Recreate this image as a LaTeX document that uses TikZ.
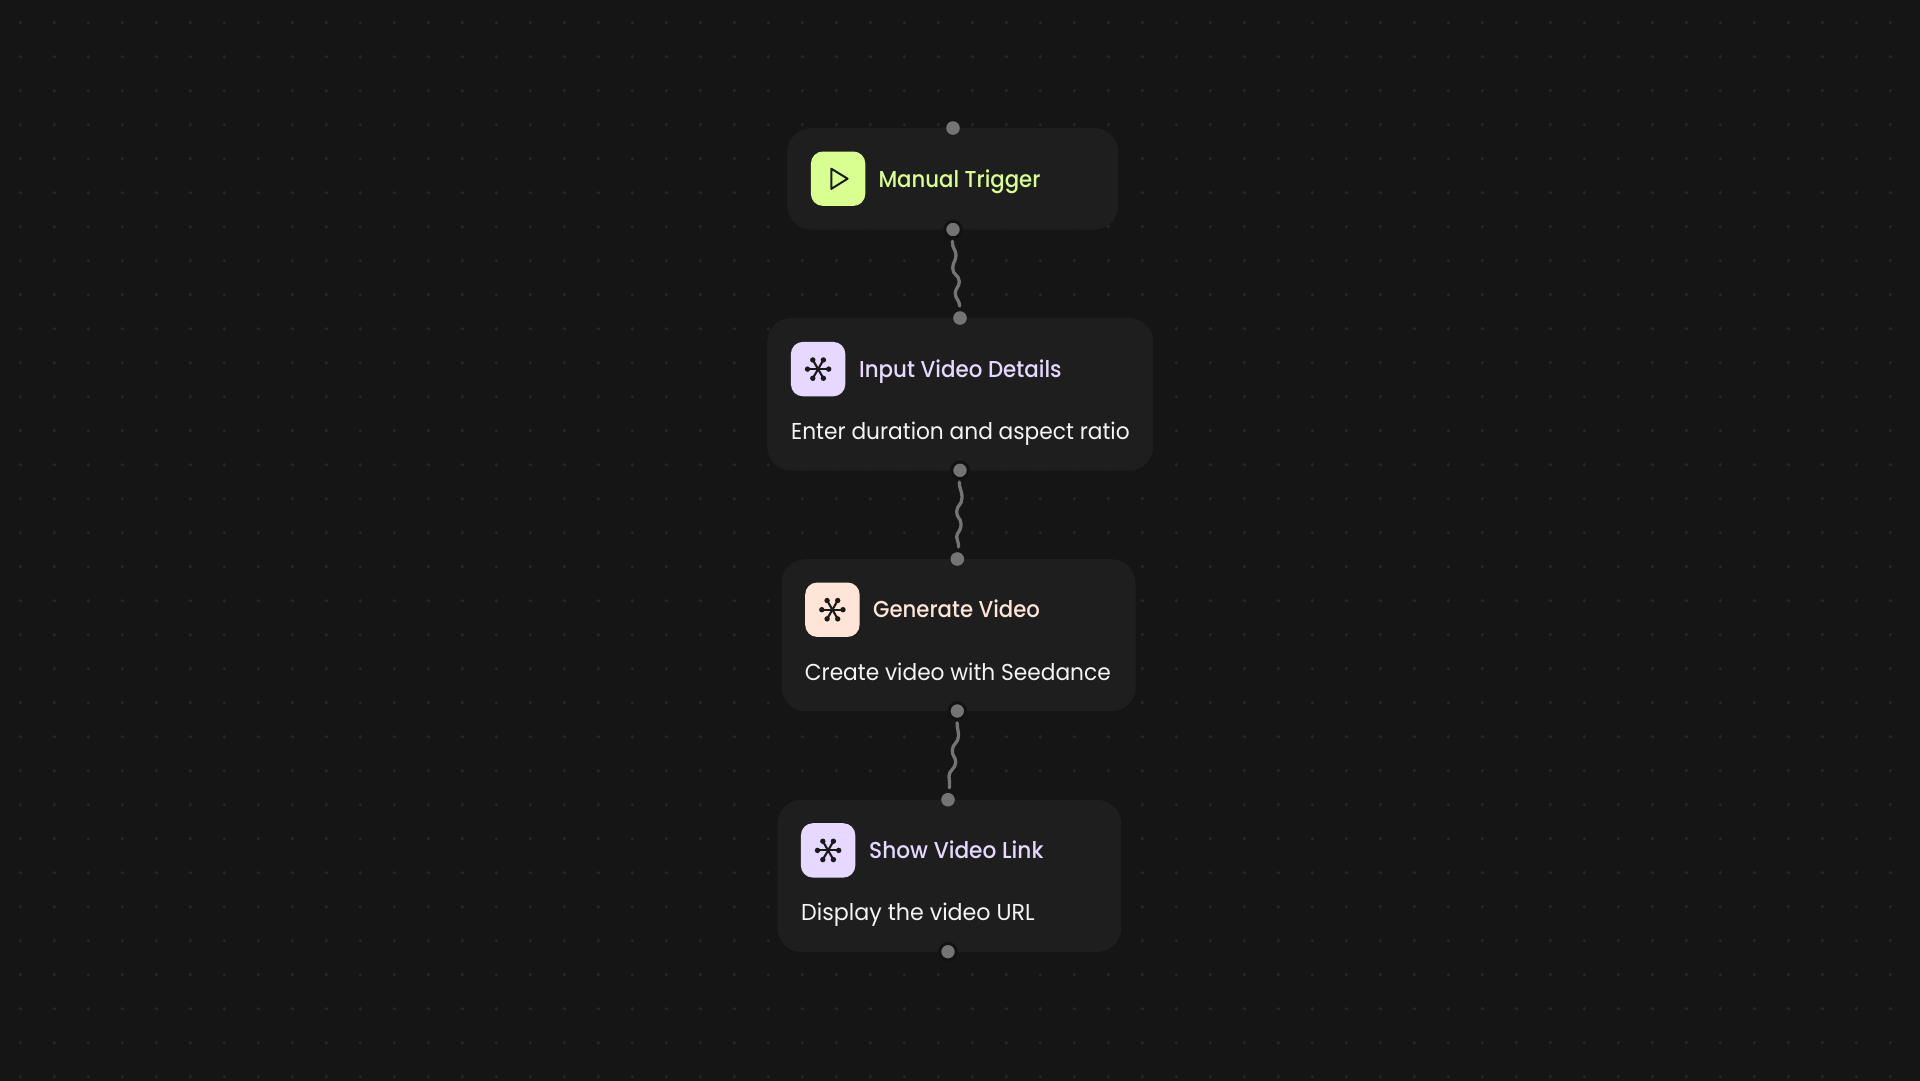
\documentclass[tikz,border=0pt]{standalone}
\usepackage{fontspec}
\setmainfont{Poppins}
\newfontfamily\subfont{Poppins}[FakeStretch=0.944]
\newfontfamily\subwidefont{Poppins}[FakeStretch=0.965]
\newfontfamily\titlefont{Poppins Medium}[FakeStretch=0.93]
\newfontfamily\titlenarrowfont{Poppins Medium}[FakeStretch=0.923]
\newfontfamily\titlewidefont{Poppins Medium}[FakeStretch=0.943]
\definecolor{bgc}{HTML}{151515}
\definecolor{dotc}{HTML}{272727}
\definecolor{cardc}{HTML}{1F1F1F}
\definecolor{portc}{HTML}{747474}
\definecolor{ringc}{HTML}{121212}
\definecolor{wirec}{HTML}{747474}
\definecolor{inkc}{HTML}{1A1A1A}
\definecolor{limec}{HTML}{D8FF8F}
\definecolor{lilac}{HTML}{E6D8FF}
\definecolor{peachc}{HTML}{FFE4D8}
\definecolor{subc}{HTML}{F4F4F4}
\tikzset{
  card/.style={rectangle,anchor=north west,rounded corners=24pt,inner sep=0pt,fill=cardc,fill opacity=0.94,text opacity=1},
  iconbox/.style={rectangle,anchor=north west,rounded corners=12pt,inner sep=0pt,minimum width=54.4pt,minimum height=54.4pt},
  port/.style={circle,fill=portc,inner sep=0pt,minimum size=13.6pt},
  outport/.style={port,draw=ringc,line width=3pt,minimum size=16.6pt},
  title/.style={anchor=base west,inner sep=0pt,font=\titlefont\fontsize{23}{28}\selectfont},
  subtitle/.style={anchor=base west,inner sep=0pt,text=subc,font=\subfont\fontsize{23}{28}\selectfont},
  wire/.style={draw=wirec,line width=3.3pt,line cap=round,shorten <=2pt,shorten >=5pt},
  glyph/.style={draw=inkc,line width=2.1pt,line cap=round},
  glyphend/.style={fill=inkc},
}
\newcommand{\astmark}[1]{%
  \foreach \ang in {0,60,...,300}{
    \draw[glyph] (#1) -- ++(\ang:10pt);
    \fill[glyphend] (#1) ++(\ang:10.6pt) circle (2.7pt);
  }}
\begin{document}
\begin{tikzpicture}[x=1pt,y=-1pt]
\useasboundingbox (0,0) rectangle (1920,1080);
\fill[bgc] (-3,-3) rectangle (1923,1083);
% dot grid
\fill[dotc] foreach \i in {0,...,56}{ foreach \j in {0,...,31}{ (20.4+34*\i,22.7+34*\j) circle (1.8pt) } };

% cards
\node[card,minimum width=331pt,minimum height=101.5pt] (n1) at (787,128) {};
\node[card,minimum width=386pt,minimum height=152.3pt] (n2) at (767,318) {};
\node[card,minimum width=354pt,minimum height=152pt] (n3) at (781.3,559) {};
\node[card,minimum width=343.7pt,minimum height=152pt] (n4) at (777.3,799.7) {};

% icons
\node[iconbox,fill=limec] (i1) at (810.7,151.3) {};
\node[iconbox,fill=lilac] (i2) at (790.7,341.7) {};
\node[iconbox,fill=peachc] (i3) at (805,582.3) {};
\node[iconbox,fill=lilac] (i4) at (800.7,823) {};
\draw[draw=inkc,line width=2pt,line join=round] ([shift={(-6.8,-10)}]i1.center) -- ([shift={(-6.8,10.2)}]i1.center) -- ([shift={(9.5,0)}]i1.center) -- cycle;
\astmark{i2.center}
\astmark{i3.center}
\astmark{i4.center}

% labels
\node[title,text=limec,font=\titlenarrowfont\fontsize{23}{28}\selectfont] (t1) at (878.3,187) {Manual Trigger};
\node[title,text=lilac] (t2) at (859,377) {Input Video Details};
\node[subtitle] (s2) at (791,439.3) {Enter duration and aspect ratio};
\node[title,text=peachc,font=\titlenarrowfont\fontsize{23}{28}\selectfont] (t3) at (873,617.7) {Generate Video};
\node[subtitle] (s3) at (804.7,680) {Create video with Seedance};
\node[title,text=lilac,font=\titlewidefont\fontsize{23}{28}\selectfont] (t4) at (869,858.3) {Show Video Link};
\node[subtitle,font=\subwidefont\fontsize{23}{28}\selectfont] (s4) at (801,920.7) {Display the video URL};

% ports
\node[port] (p1t) at (953,128) {};
\node[outport] (p1b) at (953,229.5) {};
\node[port] (p2t) at (960,318) {};
\node[outport] (p2b) at (960,470.3) {};
\node[port] (p3t) at (957.3,559) {};
\node[outport] (p3b) at (957.3,711) {};
\node[port] (p4t) at (948,799.7) {};
\node[outport] (p4b) at (948,951.7) {};

% wires
\draw[wire] (p1b) .. controls (952,248) and (956,250) .. (956,255)
  .. controls (956,261) and (952.7,262) .. (952.7,268.3)
  .. controls (952.7,275) and (959.3,275) .. (959.3,281.7)
  .. controls (959.3,287) and (955.3,288) .. (955.3,293.3)
  .. controls (955.3,299) and (959.5,300) .. (p2t);
\draw[wire] (p2b) .. controls (959,488) and (962,490) .. (962,498)
  .. controls (962,505) and (956.7,505) .. (956.7,512)
  .. controls (956.7,518) and (961,518) .. (961,524)
  .. controls (961,532) and (956.7,532) .. (956.7,537)
  .. controls (956.7,541) and (959,542) .. (p3t);
\draw[wire] (p3b) .. controls (957,728) and (958.5,730) .. (958.5,736)
  .. controls (958.5,743) and (952.3,744) .. (952.3,750)
  .. controls (952.3,757) and (955.7,757) .. (955.7,762)
  .. controls (955.7,769) and (949,770) .. (949,776)
  .. controls (949,780) and (950,782) .. (p4t);
\end{tikzpicture}
\end{document}
